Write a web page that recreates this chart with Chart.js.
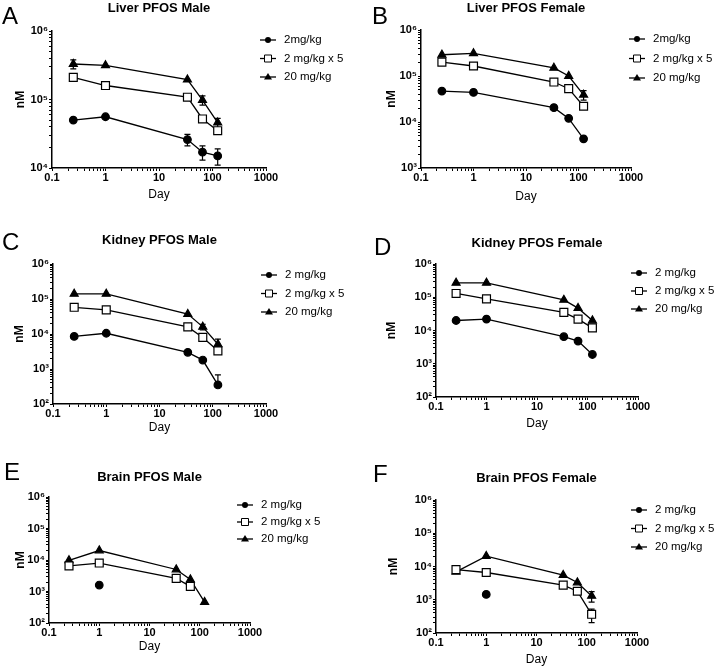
<!DOCTYPE html>
<html>
<head>
<meta charset="utf-8">
<script src="https://cdn.jsdelivr.net/npm/chart.js@4.4.1/dist/chart.umd.min.js"></script>
<style>
body { margin: 0; background: #fff; width: 714px; height: 667px; position: relative; overflow: hidden;
       font-family: "Liberation Sans", Arial, sans-serif; }
.letter { position: absolute; font-size: 24px; line-height: 24px; color: #000; }
</style>
</head>
<body>
<script>
// sampling days (x) shared by all panels
const days = [0.25, 1, 34, 65, 125];

// Liver, male
const liverMaleLow = [50000, 56000, 26000, 17000, 15000];
const liverMaleRep = [210000, 160000, 108000, 52000, 35000];
const liverMaleHigh = [330000, 315000, 195000, 98000, 46000];
const liverMaleLowErr = [0, 0, 5000, 4000, 4000];
const liverMaleHighErr = [50000, 0, 0, 15000, 7000];

// Liver, female
const liverFemaleLow = [47000, 44000, 20500, 12000, 4300];
const liverFemaleRep = [200000, 165000, 74000, 53000, 22000];
const liverFemaleHigh = [290000, 310000, 150000, 100000, 39000];
const liverFemaleHighErr = [0, 0, 0, 0, 9000];

// Kidney, male
const kidneyMaleLow = [8500, 10500, 3000, 1800, 350];
const kidneyMaleRep = [58000, 49000, 16000, 8000, 3300];
const kidneyMaleHigh = [140000, 140000, 37000, 16000, 5100];
const kidneyMaleLowErr = [0, 0, 0, 0, 330];
const kidneyMaleHighErr = [0, 0, 0, 3000, 2000];

// Kidney, female
const kidneyFemaleLow = [20000, 22000, 6500, 4800, 1900];
const kidneyFemaleRep = [130000, 89000, 35000, 22000, 12000];
const kidneyFemaleHigh = [270000, 270000, 83000, 47000, 20000];

// Brain, male
const brainMaleLow = [null, 1600, null, null, null];
const brainMaleRep = [6500, 8000, 2600, 1450, null];
const brainMaleHigh = [9700, 20000, 5000, 2400, 460];

// Brain, female
const brainFemaleLow = [null, 1450, null, null, null];
const brainFemaleRep = [8100, 6600, 2750, 1800, 365];
const brainFemaleHigh = [6900, 20500, 5500, 3300, 1300];
const brainFemaleRepErr = [0, 0, 0, 0, 160];
const brainFemaleHighErr = [0, 0, 0, 0, 450];

const legendLiver = ['2mg/kg', '2 mg/kg x 5', '20 mg/kg'];
const legendOther = ['2 mg/kg', '2 mg/kg x 5', '20 mg/kg'];

const sup = { 2: '\u00b2', 3: '\u00b3', 4: '\u2074', 5: '\u2075', 6: '\u2076' };
const FONT = '"Liberation Sans", Arial, sans-serif';

function isDecade(v) {
    const l = Math.log10(v);
    return Math.abs(l - Math.round(l)) < 1e-6;
}

function logTicks(min, max) {
    const out = [];
    for (let e = Math.round(Math.log10(min)); e < Math.round(Math.log10(max)); e++) {
        for (let m = 1; m < 10; m++) out.push({ value: m * Math.pow(10, e) });
    }
    out.push({ value: max });
    return out;
}

function pts(vals) {
    return days.map((d, i) => ({ x: d, y: vals[i] }));
}

// error bars, drawn under the markers
const errorBars = {
    id: 'errorBars',
    beforeDatasetsDraw(chart) {
        const { ctx, scales: { x, y } } = chart;
        ctx.save();
        ctx.strokeStyle = '#000';
        ctx.lineWidth = 1.2;
        chart.data.datasets.forEach(ds => {
            if (!ds.errors) return;
            ds.data.forEach((p, i) => {
                const e = ds.errors[i];
                if (!e || p.y == null) return;
                const px = x.getPixelForValue(p.x);
                const py = y.getPixelForValue(p.y);
                const top = y.getPixelForValue(p.y + e);
                ctx.beginPath();
                ctx.moveTo(px, py); ctx.lineTo(px, top);
                ctx.moveTo(px - 3, top); ctx.lineTo(px + 3, top);
                if (p.y - e >= y.min) {
                    const bot = y.getPixelForValue(p.y - e);
                    ctx.moveTo(px, py); ctx.lineTo(px, bot);
                    ctx.moveTo(px - 3, bot); ctx.lineTo(px + 3, bot);
                }
                ctx.stroke();
            });
        });
        ctx.restore();
    }
};

// legend with line + marker symbols
const sideLegend = {
    id: 'sideLegend',
    afterDraw(chart, args, opts) {
        const { ctx } = chart;
        ctx.save();
        ctx.font = '11.5px ' + FONT;
        ctx.textBaseline = 'middle';
        chart.data.datasets.forEach((ds, i) => {
            const x = opts.x, y = opts.y + i * opts.gap;
            ctx.strokeStyle = '#000';
            ctx.lineWidth = 1.3;
            ctx.beginPath(); ctx.moveTo(x - 8, y); ctx.lineTo(x + 8, y); ctx.stroke();
            ctx.fillStyle = '#000';
            ctx.beginPath();
            if (ds.pointStyle === 'circle') {
                ctx.arc(x, y, 3, 0, Math.PI * 2); ctx.fill();
            } else if (ds.pointStyle === 'rect') {
                ctx.fillStyle = '#fff';
                ctx.rect(x - 3.5, y - 3.5, 7, 7); ctx.fill();
                ctx.lineWidth = 1; ctx.stroke();
            } else {
                ctx.moveTo(x, y - 4); ctx.lineTo(x + 4, y + 2.5); ctx.lineTo(x - 4, y + 2.5);
                ctx.closePath(); ctx.fill();
            }
            ctx.fillStyle = '#000';
            ctx.fillText(ds.label, x + 16, y);
        });
        ctx.restore();
    }
};

function makePanel(p) {
    const cv = document.createElement('canvas');
    cv.width = p.cw; cv.height = p.ch;
    cv.style.cssText = 'position:absolute;left:' + p.cx + 'px;top:' + p.cy + 'px;';
    document.body.appendChild(cv);

    const lt = document.createElement('div');
    lt.className = 'letter';
    lt.style.left = p.letter[0] + 'px';
    lt.style.top = p.letter[1] + 'px';
    lt.textContent = p.name;
    document.body.appendChild(lt);

    const titlePadTop = p.titleY - p.cy - 7.8;
    const titlePadBottom = (p.area.t - p.cy) - titlePadTop - 15.6;

    const sets = [
        { label: p.labels[0], data: pts(p.low), errors: p.lowErr, pointStyle: 'circle', pointRadius: 3.8,
          pointBackgroundColor: '#000' },
        { label: p.labels[1], data: pts(p.rep), errors: p.repErr, pointStyle: 'rect', pointRadius: 5.6,
          pointBackgroundColor: '#fff' },
        { label: p.labels[2], data: pts(p.high), errors: p.highErr, pointStyle: 'triangle', pointRadius: 4.6,
          pointBackgroundColor: '#000' }
    ].map(d => Object.assign(d, {
        borderColor: '#000', borderWidth: 1.3, pointBorderColor: '#000', pointBorderWidth: 1.2,
        tension: 0, fill: false, spanGaps: false
    }));

    new Chart(cv, {
        type: 'line',
        data: { datasets: sets },
        plugins: [errorBars, sideLegend],
        options: {
            responsive: false,
            animation: false,
            layout: { padding: { left: 0, top: 0, bottom: 0, right: p.cx + p.cw - p.area.r } },
            plugins: {
                legend: { display: false },
                tooltip: { enabled: false },
                title: {
                    display: true, text: p.title, color: '#000', fullSize: false,
                    font: { family: FONT, size: 13, weight: 'bold' },
                    padding: { top: titlePadTop, bottom: titlePadBottom }
                },
                sideLegend: { x: p.legend[0] - p.cx, y: p.legend[1] - p.cy, gap: p.legend[2] }
            },
            scales: {
                x: {
                    type: 'logarithmic', min: 0.1, max: 1000,
                    afterFit: s => { s.height = p.cy + p.ch - p.area.b; },
                    afterBuildTicks: s => { s.ticks = logTicks(0.1, 1000); },
                    grid: { drawOnChartArea: false, drawTicks: true, tickLength: 3, color: '#000' },
                    border: { color: '#000', width: 1.5 },
                    ticks: {
                        autoSkip: false, maxRotation: 0, minRotation: 0, padding: 0, color: '#000',
                        font: { family: FONT, size: 11, weight: 'bold' },
                        callback: v => isDecade(v) ? String(v) : ''
                    },
                    title: {
                        display: true, text: 'Day', color: '#000',
                        font: { family: FONT, size: 12 },
                        padding: { top: 0, bottom: p.cy + p.ch - p.dayY - 7.2 }
                    }
                },
                y: {
                    type: 'logarithmic', min: p.yMin, max: 1e6,
                    afterFit: s => { s.width = p.area.l - p.cx; },
                    afterBuildTicks: s => { s.ticks = logTicks(p.yMin, 1e6); },
                    grid: { drawOnChartArea: false, drawTicks: true, tickLength: 3, color: '#000' },
                    border: { color: '#000', width: 1.5 },
                    ticks: {
                        autoSkip: false, padding: 1, color: '#000',
                        font: { family: FONT, size: 11, weight: 'bold' },
                        callback: v => isDecade(v) ? '10' + sup[Math.round(Math.log10(v))] : ''
                    },
                    title: {
                        display: true, text: 'nM', color: '#000',
                        font: { family: FONT, size: 12, weight: 'bold' },
                        padding: { top: p.nmX - p.cx - 7.2, bottom: 0 }
                    }
                }
            }
        }
    });
}

makePanel({ name: 'A', title: 'Liver PFOS Male', cx: 0, cy: 0, cw: 357, ch: 222,
    area: { l: 52, t: 31, r: 266, b: 168 }, yMin: 1e4, titleY: 8, nmX: 21, dayY: 195,
    legend: [268, 40, 18.5], letter: [2, 4], labels: legendLiver,
    low: liverMaleLow, rep: liverMaleRep, high: liverMaleHigh,
    lowErr: liverMaleLowErr, highErr: liverMaleHighErr });

makePanel({ name: 'B', title: 'Liver PFOS Female', cx: 357, cy: 0, cw: 357, ch: 222,
    area: { l: 421, t: 30, r: 631, b: 168 }, yMin: 1e3, titleY: 8, nmX: 392, dayY: 197,
    legend: [637, 39, 19.5], letter: [372, 4], labels: legendLiver,
    low: liverFemaleLow, rep: liverFemaleRep, high: liverFemaleHigh,
    highErr: liverFemaleHighErr });

makePanel({ name: 'C', title: 'Kidney PFOS Male', cx: 0, cy: 225, cw: 357, ch: 222,
    area: { l: 53, t: 264, r: 266, b: 404 }, yMin: 1e2, titleY: 240, nmX: 20, dayY: 428,
    legend: [269, 275, 18.5], letter: [2, 230], labels: legendOther,
    low: kidneyMaleLow, rep: kidneyMaleRep, high: kidneyMaleHigh,
    lowErr: kidneyMaleLowErr, highErr: kidneyMaleHighErr });

makePanel({ name: 'D', title: 'Kidney PFOS Female', cx: 357, cy: 225, cw: 357, ch: 222,
    area: { l: 436, t: 264, r: 638, b: 397 }, yMin: 1e2, titleY: 243, nmX: 392, dayY: 424,
    legend: [639, 273, 18], letter: [374, 235], labels: legendOther,
    low: kidneyFemaleLow, rep: kidneyFemaleRep, high: kidneyFemaleHigh });

makePanel({ name: 'E', title: 'Brain PFOS Male', cx: 0, cy: 450, cw: 357, ch: 217,
    area: { l: 49, t: 497, r: 250, b: 623 }, yMin: 1e2, titleY: 477, nmX: 21, dayY: 647,
    legend: [245, 505, 17], letter: [4, 460], labels: legendOther,
    low: brainMaleLow, rep: brainMaleRep, high: brainMaleHigh });

makePanel({ name: 'F', title: 'Brain PFOS Female', cx: 357, cy: 450, cw: 357, ch: 217,
    area: { l: 436, t: 500, r: 637, b: 633 }, yMin: 1e2, titleY: 478, nmX: 394, dayY: 660,
    legend: [639, 510, 18.5], letter: [373, 462], labels: legendOther,
    low: brainFemaleLow, rep: brainFemaleRep, high: brainFemaleHigh,
    repErr: brainFemaleRepErr, highErr: brainFemaleHighErr });
</script>
</body>
</html>
